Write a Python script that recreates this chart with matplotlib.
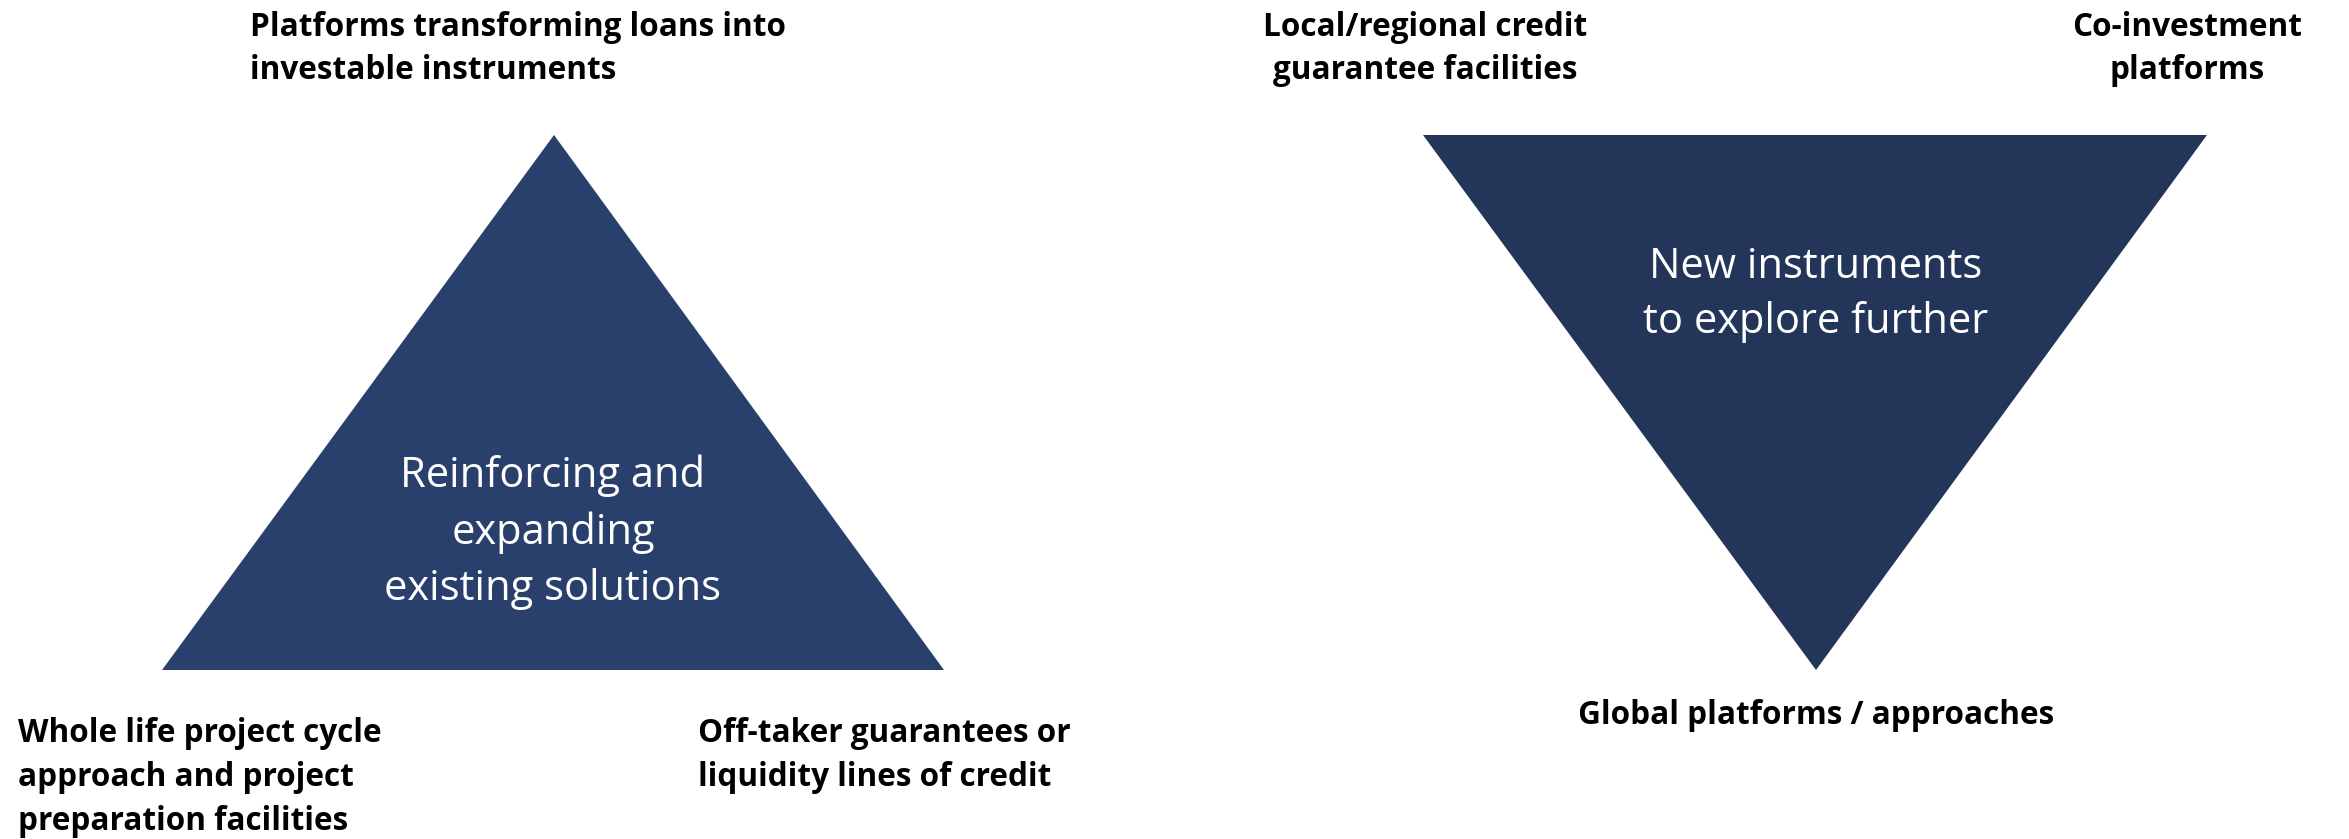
import matplotlib
matplotlib.use("Agg")
import matplotlib.pyplot as plt
from matplotlib.patches import Polygon
from matplotlib import font_manager

# triangle corners, in pixel space of the slide (y grows downward)
left_tri_x = [554, 162, 944]
left_tri_y = [135, 670, 670]
right_tri_x = [1423, 2207, 1816]
right_tri_y = [135, 135, 670]

left_color = "#28406b"
right_color = "#233659"

# white captions inside the triangles
left_caption = ["Reinforcing and", "expanding", "existing solutions"]
right_caption = ["New instruments", "to explore further"]

# black labels around the triangles: (lines, x, first line y, alignment)
outer_labels = [
    (["Platforms transforming loans into", "investable instruments"], 250, 27, "left"),
    (["Whole life project cycle", "approach and project", "preparation facilities"], 18, 734, "left"),
    (["Off-taker guarantees or", "liquidity lines of credit"], 698, 734, "left"),
    (["Local/regional credit", "guarantee facilities"], 1425, 27, "center"),
    (["Co-investment", "platforms"], 2187, 27, "center"),
    (["Global platforms / approaches"], 1816, 716, "center"),
]

names = {f.name for f in font_manager.fontManager.ttflist}
bold_font = "Liberation Sans Narrow" if "Liberation Sans Narrow" in names else "Open Sans"
body_font = "Open Sans"

W, H = 2349, 839
fig = plt.figure(figsize=(W / 100, H / 100), dpi=100)
ax = fig.add_axes([0, 0, 1, 1])
ax.set_xlim(0, W)
ax.set_ylim(H, 0)
ax.axis("off")

ax.add_patch(Polygon(list(zip(left_tri_x, left_tri_y)), closed=True,
                     facecolor=left_color, edgecolor="none"))
ax.add_patch(Polygon(list(zip(right_tri_x, right_tri_y)), closed=True,
                     facecolor=right_color, edgecolor="none"))

for i, line in enumerate(left_caption):
    ax.text(553, 476 + i * 56.5, line, color="white", fontsize=30,
            family=body_font, ha="center", va="center")
for i, line in enumerate(right_caption):
    ax.text(1816, 267 + i * 55, line, color="white", fontsize=30,
            family=body_font, ha="center", va="center")

for lines, x, y0, align in outer_labels:
    for i, line in enumerate(lines):
        ax.text(x, y0 + i * 43.5, line, color="black", fontsize=22.7,
                family=bold_font, fontweight="bold", ha=align, va="center")

fig.savefig("out.png", dpi=100, facecolor="white")
